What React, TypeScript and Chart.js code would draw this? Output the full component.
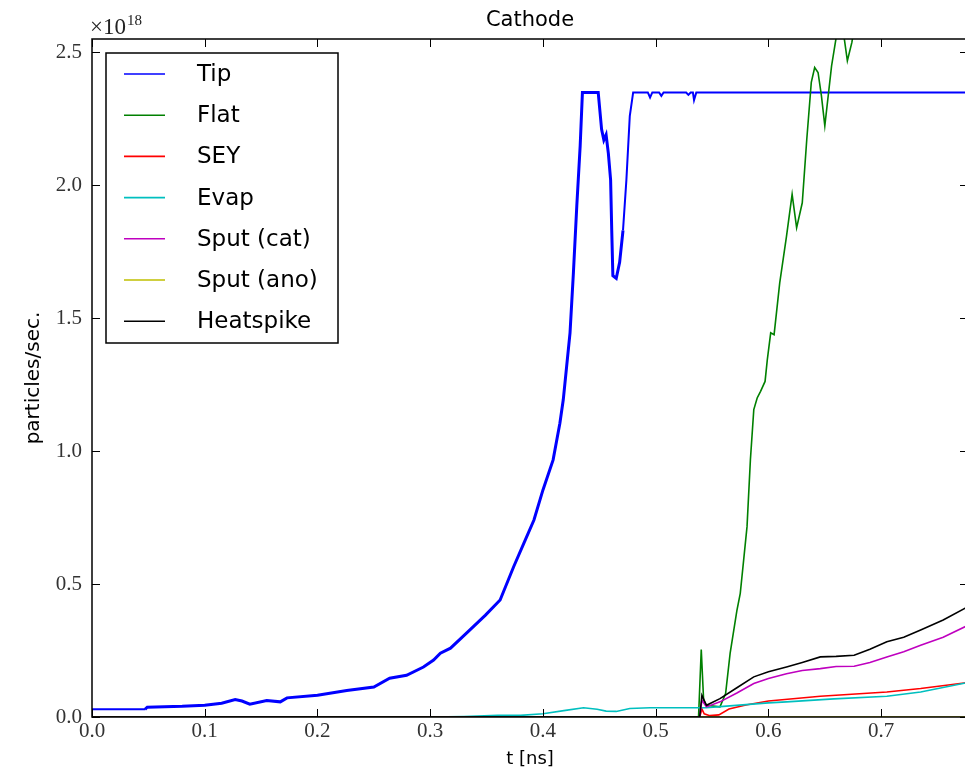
import React, { useEffect, useRef } from "react";
import { Chart, registerables } from "chart.js";

Chart.register(...registerables);

// ---- data (values in units of 1e18 particles/sec, time in ns) ----
const tipT = [0, 0.047, 0.049, 0.08, 0.1, 0.115, 0.127, 0.133, 0.14, 0.155, 0.167, 0.173, 0.2, 0.226, 0.25, 0.264, 0.279, 0.294, 0.303, 0.309, 0.318, 0.335, 0.349, 0.362, 0.374, 0.383, 0.392, 0.4, 0.409, 0.415, 0.418, 0.421, 0.424, 0.427, 0.43, 0.433, 0.435, 0.449, 0.452, 0.454, 0.456, 0.458, 0.46, 0.461, 0.462, 0.465, 0.468, 0.471, 0.474, 0.477, 0.48, 0.493, 0.495, 0.497, 0.503, 0.505, 0.507, 0.527, 0.529, 0.531, 0.533, 0.534, 0.536, 0.777];
const tipV = [0.029, 0.029, 0.037, 0.04, 0.044, 0.052, 0.066, 0.06, 0.048, 0.062, 0.057, 0.072, 0.082, 0.1, 0.113, 0.146, 0.157, 0.188, 0.214, 0.24, 0.259, 0.327, 0.383, 0.44, 0.565, 0.653, 0.741, 0.854, 0.967, 1.105, 1.193, 1.319, 1.445, 1.671, 1.922, 2.148, 2.349, 2.349, 2.21, 2.17, 2.19, 2.12, 2.02, 1.83, 1.66, 1.65, 1.71, 1.83, 2.02, 2.26, 2.349, 2.349, 2.33, 2.349, 2.349, 2.336, 2.349, 2.349, 2.34, 2.349, 2.349, 2.32, 2.349, 2.349];

const flatT = [0, 0.538, 0.5404, 0.5425, 0.545, 0.557, 0.562, 0.566, 0.572, 0.575, 0.578, 0.581, 0.584, 0.587, 0.59, 0.593, 0.597, 0.599, 0.602, 0.605, 0.61, 0.616, 0.621, 0.625, 0.63, 0.634, 0.638, 0.641, 0.644, 0.647, 0.65, 0.653, 0.656, 0.661, 0.665, 0.67, 0.674, 0.68, 0.7, 0.777];
const flatV = [0, 0, 0.254, 0.063, 0.044, 0.038, 0.088, 0.239, 0.4, 0.465, 0.59, 0.716, 0.968, 1.156, 1.2, 1.225, 1.262, 1.344, 1.445, 1.438, 1.633, 1.808, 1.966, 1.84, 1.934, 2.173, 2.387, 2.443, 2.424, 2.336, 2.223, 2.336, 2.449, 2.58, 2.62, 2.468, 2.537, 2.7, 2.95, 3.6];

const seyT = [0, 0.539, 0.541, 0.543, 0.548, 0.556, 0.565, 0.58, 0.6, 0.646, 0.705, 0.735, 0.777];
const seyV = [0, 0, 0.03, 0.012, 0.005, 0.008, 0.03, 0.045, 0.06, 0.078, 0.094, 0.107, 0.13];

const evapT = [0, 0.3, 0.33, 0.36, 0.38, 0.4, 0.42, 0.436, 0.448, 0.456, 0.465, 0.477, 0.495, 0.536, 0.545, 0.56, 0.6, 0.616, 0.658, 0.705, 0.735, 0.777];
const evapV = [0, 0, 0.002, 0.006, 0.006, 0.012, 0.025, 0.035, 0.029, 0.022, 0.021, 0.032, 0.035, 0.035, 0.035, 0.04, 0.053, 0.057, 0.068, 0.078, 0.094, 0.13];

const sputCatT = [0, 0.539, 0.541, 0.545, 0.557, 0.572, 0.587, 0.6, 0.616, 0.63, 0.646, 0.66, 0.676, 0.69, 0.705, 0.72, 0.735, 0.755, 0.777];
const sputCatV = [0, 0, 0.063, 0.038, 0.057, 0.09, 0.126, 0.145, 0.163, 0.175, 0.182, 0.19, 0.191, 0.205, 0.226, 0.245, 0.27, 0.3, 0.345];

const sputAnoT = [0, 0.777];
const sputAnoV = [0, 0];

const heatT = [0, 0.539, 0.541, 0.545, 0.557, 0.572, 0.587, 0.6, 0.616, 0.63, 0.646, 0.66, 0.676, 0.69, 0.705, 0.72, 0.735, 0.755, 0.777];
const heatV = [0, 0, 0.082, 0.044, 0.069, 0.11, 0.151, 0.17, 0.188, 0.205, 0.226, 0.228, 0.232, 0.255, 0.283, 0.3, 0.327, 0.365, 0.415];

const seriesLabels = ["Tip", "Flat", "SEY", "Evap", "Sput (cat)", "Sput (ano)", "Heatspike"];
const seriesColors = ["#0000ff", "#008000", "#ff0000", "#00bfbf", "#bf00bf", "#bfbf00", "#000000"];
const seriesT = [tipT, flatT, seyT, evapT, sputCatT, sputAnoT, heatT];
const seriesV = [tipV, flatV, seyV, evapV, sputCatV, sputAnoV, heatV];

const xTickValues = [0, 0.1, 0.2, 0.3, 0.4, 0.5, 0.6, 0.7];
const yTickValues = [0, 0.5, 1.0, 1.5, 2.0, 2.5];

const X_MIN = 0;
const X_MAX = 0.777;
const Y_MIN = 0;
const Y_MAX = 2.55;

const TITLE = "Cathode";
const X_LABEL = "t [ns]";
const Y_LABEL = "particles/sec.";

const SANS = "'DejaVu Sans', sans-serif";
const SERIF = "'Liberation Serif', serif";

const framePlugin = {
  id: "mplFrame",
  afterDatasetsDraw(chart: any) {
    const { ctx, chartArea: a, scales } = chart;
    ctx.save();
    ctx.strokeStyle = "#000";
    ctx.lineWidth = 1;
    const tl = 8;
    ctx.beginPath();
    for (const t of scales.x.ticks) {
      const px = Math.round(scales.x.getPixelForValue(t.value)) + 0.5;
      ctx.moveTo(px, a.bottom);
      ctx.lineTo(px, a.bottom - tl);
      ctx.moveTo(px, a.top);
      ctx.lineTo(px, a.top + tl);
    }
    for (const t of scales.y.ticks) {
      const py = Math.round(scales.y.getPixelForValue(t.value)) + 0.5;
      ctx.moveTo(a.left, py);
      ctx.lineTo(a.left + tl, py);
      ctx.moveTo(a.right, py);
      ctx.lineTo(a.right - tl, py);
    }
    ctx.stroke();
    ctx.lineWidth = 1.5;
    ctx.strokeRect(a.left, a.top, a.right - a.left, a.bottom - a.top);

    // legend box
    const bx = a.left + 14;
    const by = a.top + 14;
    const bw = 232;
    const bh = 290;
    ctx.fillStyle = "#fff";
    ctx.fillRect(bx, by, bw, bh);
    ctx.lineWidth = 1.5;
    ctx.strokeStyle = "#000";
    ctx.strokeRect(bx, by, bw, bh);
    ctx.font = `23px ${SANS}`;
    ctx.textBaseline = "middle";
    ctx.textAlign = "left";
    chart.data.datasets.forEach((ds: any, i: number) => {
      const y = by + 21 + i * 41.2;
      ctx.strokeStyle = ds.borderColor;
      ctx.lineWidth = 1.6;
      ctx.beginPath();
      ctx.moveTo(bx + 18, y);
      ctx.lineTo(bx + 59, y);
      ctx.stroke();
      ctx.fillStyle = "#000";
      ctx.fillText(ds.label, bx + 91, y + 1);
    });
    ctx.restore();
  },
  afterDraw(chart: any) {
    const { ctx, chartArea: a } = chart;
    ctx.save();
    ctx.fillStyle = "#000";
    ctx.font = `21px ${SANS}`;
    ctx.textAlign = "center";
    ctx.textBaseline = "alphabetic";
    ctx.fillText(TITLE, (a.left + a.right) / 2, 26);
    // offset text x10^18
    ctx.fillStyle = "#222";
    ctx.textAlign = "left";
    ctx.font = `23px ${SERIF}`;
    ctx.fillText("\u00d710", a.left - 2, 34);
    const w = ctx.measureText("\u00d710").width;
    ctx.font = `15px ${SERIF}`;
    ctx.fillText("18", a.left - 2 + w + 1, 25);
    ctx.restore();
  },
};

export default function App() {
  const ref = useRef<HTMLCanvasElement | null>(null);

  useEffect(() => {
    if (!ref.current) return;
    const datasets = seriesLabels.map((label, i) => ({
      label,
      data: seriesT[i].map((x, k) => ({ x, y: seriesV[i][k] })),
      borderColor: seriesColors[i],
      backgroundColor: seriesColors[i],
      borderWidth: i === 0 ? 2 : 1.6,
      pointRadius: 0,
      tension: 0,
      fill: false,
      clip: 0,
      order: seriesLabels.length - i,
      segment:
        i === 0
          ? { borderWidth: (c: any) => (c.p0.parsed.x < 0.47 && c.p0.parsed.x > 0.04 ? 3 : 2) }
          : undefined,
    }));

    const chart = new Chart(ref.current, {
      type: "line",
      data: { datasets },
      options: {
        animation: false,
        responsive: false,
        maintainAspectRatio: false,
        parsing: false as any,
        layout: { padding: { left: 0, top: 39, right: 2, bottom: 0 } },
        plugins: {
          legend: { display: false },
          tooltip: { enabled: false },
          title: { display: false },
        },
        scales: {
          x: {
            type: "linear",
            min: X_MIN,
            max: X_MAX,
            grid: { display: false, drawTicks: false },
            border: { display: false },
            ticks: {
              font: { family: SERIF, size: 21 },
              color: "#333",
              padding: 2,
              maxRotation: 0,
              autoSkip: false,
              callback: (v: any) => Number(v).toFixed(1),
            },
            afterBuildTicks: (scale: any) => {
              scale.ticks = xTickValues.map((v) => ({ value: v }));
            },
            afterFit: (scale: any) => {
              scale.height = 55;
            },
            title: {
              display: true,
              text: X_LABEL,
              color: "#000",
              font: { family: SANS, size: 18 },
              padding: { top: 0, bottom: 2 },
            },
          },
          y: {
            type: "linear",
            min: Y_MIN,
            max: Y_MAX,
            grid: { display: false, drawTicks: false },
            border: { display: false },
            ticks: {
              font: { family: SERIF, size: 21 },
              color: "#333",
              padding: 10,
              autoSkip: false,
              callback: (v: any) => Number(v).toFixed(1),
            },
            afterBuildTicks: (scale: any) => {
              scale.ticks = yTickValues.map((v) => ({ value: v }));
            },
            afterFit: (scale: any) => {
              scale.width = 92;
            },
            title: {
              display: true,
              text: Y_LABEL,
              color: "#000",
              font: { family: SANS, size: 20 },
              padding: { top: 22, bottom: 0 },
            },
          },
        },
      },
      plugins: [framePlugin],
    });
    return () => chart.destroy();
  }, []);

  return (
    <div
      style={{
        position: "fixed",
        left: 0,
        top: 0,
        width: 965,
        height: 772,
        overflow: "hidden",
        background: "#fff",
      }}
    >
      <canvas ref={ref} width={970} height={772} style={{ display: "block", width: 970, height: 772 }} />
    </div>
  );
}
